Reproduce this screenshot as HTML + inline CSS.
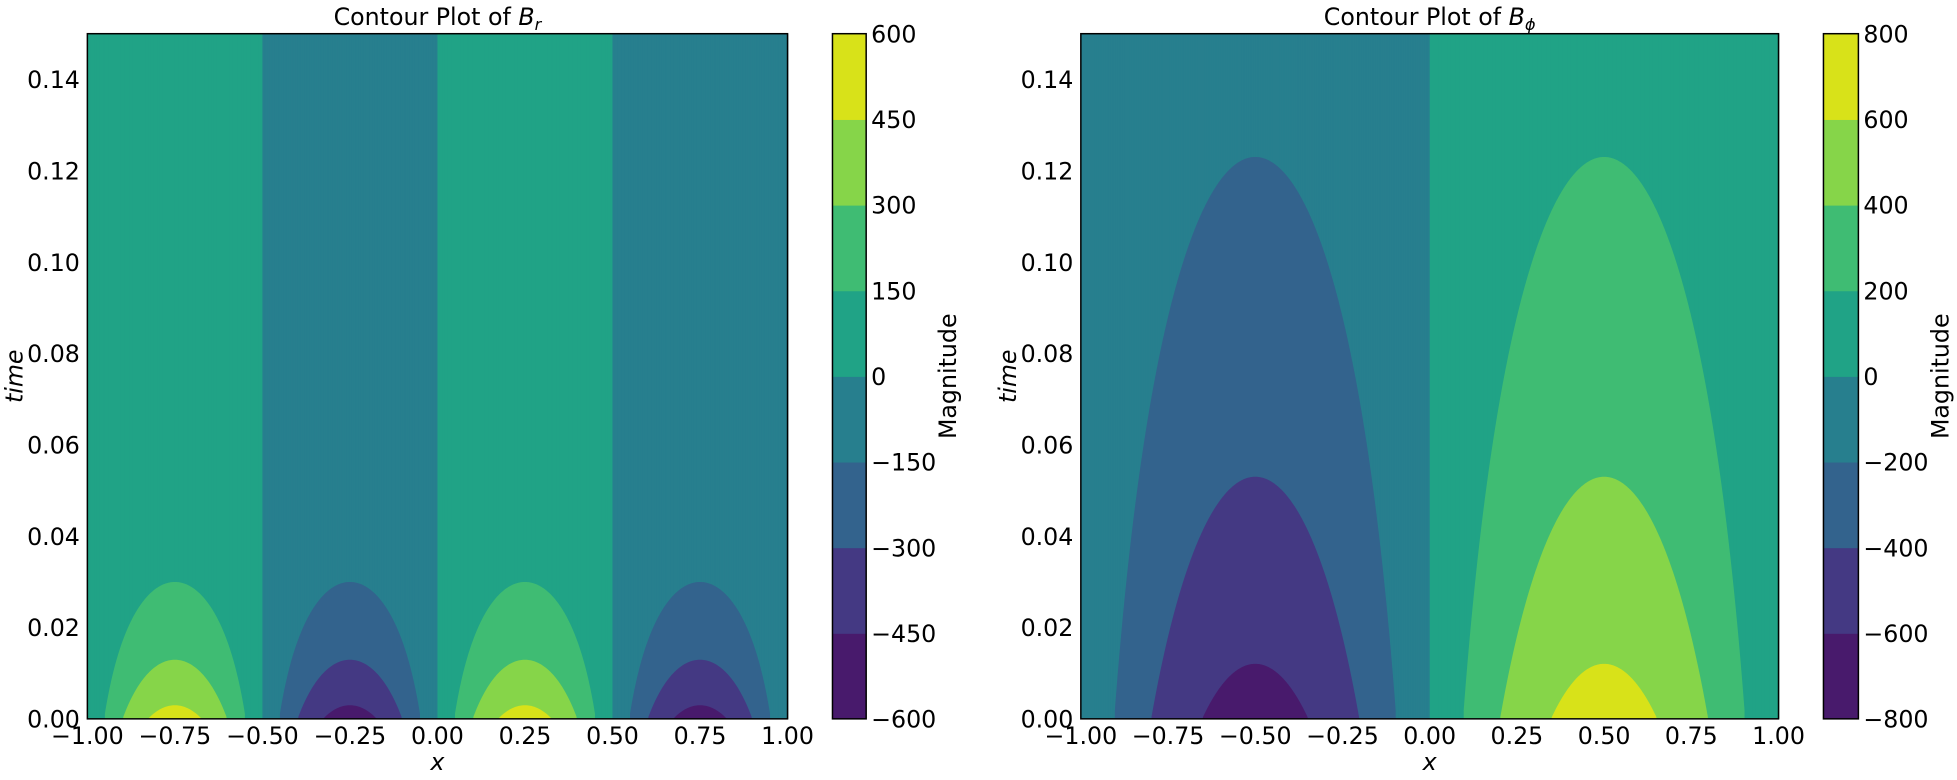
<!DOCTYPE html>
<html><head><meta charset="utf-8"><style>
html,body{margin:0;padding:0;background:#fff;}
svg{display:block;}
text{font-family:"DejaVu Sans","Liberation Sans",sans-serif;fill:#000;}
</style></head><body>
<svg id="s" width="1957" height="780" viewBox="0 0 1568 625" preserveAspectRatio="none" xmlns="http://www.w3.org/2000/svg">
<g id="g"></g>
</svg>
<script>
const C=["#481a6c","#443983","#33638d","#277f8e","#20a386","#3fbc73","#86d549","#d8e219"];
const NS="http://www.w3.org/2000/svg";
const g=document.getElementById('g');
function el(n,a,t){const e=document.createElementNS(NS,n);for(const k in a)e.setAttribute(k,a[k]);if(t!==undefined)e.textContent=t;g.appendChild(e);return e;}
function plot(o){
 const {x0,x1,y0,y1,A,k,w,lev,cb0,cb1,cx,mag,title,cbl}=o;
 const X=x=>x0+(x+1)/2*(x1-x0), T=t=>y1-(t/0.15)*(y1-y0);
 const f=(x,t)=>A*Math.exp(-k*t)*Math.sin(w*Math.PI*x);
 // background bands by sign
 const N=400;
 for(let i=0;i<N;i++){const xa=-1+2*i/N,xb=-1+2*(i+1)/N,xm=(xa+xb)/2;
   const v=f(xm,0.15);const idx=v>=0?4:3;
   el('rect',{x:X(xa),y:y0,width:X(xb)-X(xa)+0.6,height:y1-y0,fill:C[idx]});}
 // domes
 for(let j=1;j<4;j++){
  for(const sgn of [1,-1]){
   const L=lev*j;const col=sgn>0?C[4+j]:C[3-j];
   // find intervals where sgn*A*sin>L
   let pts=[];let inside=false;let d="";
   const M=800;
   for(let i=0;i<=M;i++){const x=-1+2*i/M;const s=sgn*A*Math.sin(w*Math.PI*x);
     if(s>L){const t=Math.min(0.15,Math.log(s/L)/k);pts.push([X(x),T(t)]);inside=true;}
     else if(inside){inside=false;d+=seg(pts);pts=[];}}
   if(pts.length)d+=seg(pts);
   if(d)el('path',{d:d,fill:col});
  }}
 function seg(p){let s="M"+p[0][0]+","+y1;for(const q of p)s+="L"+q[0]+","+q[1];s+="L"+p[p.length-1][0]+","+y1+"Z";return s;}
 el('rect',{x:x0,y:y0,width:x1-x0,height:y1-y0,fill:"none",stroke:"#000","stroke-width":1.2});
 // y ticks
 for(let i=0;i<=7;i++){const t=i*0.02;el('text',{x:x0-6,y:T(t)+7,"text-anchor":"end","font-size":19},t.toFixed(2));}
 ["\u22121.00","\u22120.75","\u22120.50","\u22120.25","0.00","0.25","0.50","0.75","1.00"].forEach((s,i)=>{
   el('text',{x:X(-1+i*0.25),y:y1+20,"text-anchor":"middle","font-size":19},s);});
 el('text',{x:(x0+x1)/2,y:y1+41,"text-anchor":"middle","font-size":19,"font-style":"italic"},"x");
 el('text',{x:0,y:0,"text-anchor":"middle","font-size":19,"font-style":"italic",transform:`translate(${x0-52},${(y0+y1)/2}) rotate(-90)`},"time");
 const tt=el('text',{x:(x0+x1)/2,y:20,"text-anchor":"middle","font-size":19},"Contour Plot of ");
 const ts=document.createElementNS(NS,'tspan');ts.setAttribute('font-style','italic');ts.textContent="B";tt.appendChild(ts);
 const ts2=document.createElementNS(NS,'tspan');ts2.setAttribute('font-style','italic');ts2.setAttribute('font-size',13);ts2.setAttribute('dy',4);ts2.textContent=title;tt.appendChild(ts2);
 // colorbar
 const h=(y1-y0)/8;
 for(let i=0;i<8;i++)el('rect',{x:cb0,y:y1-(i+1)*h,width:cb1-cb0,height:h+0.5,fill:C[i]});
 el('rect',{x:cb0,y:y0,width:cb1-cb0,height:y1-y0,fill:"none",stroke:"#000","stroke-width":1.2});
 cbl.forEach((s,i)=>el('text',{x:cb1+4,y:y1-i*h+7,"font-size":19},s));
 el('text',{x:0,y:0,"text-anchor":"middle","font-size":19,transform:`translate(${mag},${(y0+y1)/2}) rotate(-90)`},"Magnitude");
}
const m="\u2212";
plot({x0:70,x1:631,y0:27,y1:576,A:508,k:40.7,w:2,lev:150,cb0:667,cb1:694,mag:766,title:"r",
 cbl:[m+"600",m+"450",m+"300",m+"150","0","150","300","450","600"]});
plot({x0:866,x1:1425,y0:27,y1:576,A:676,k:9.9,w:1,lev:200,cb0:1461,cb1:1489,mag:1561,title:"\u03d5",
 cbl:[m+"800",m+"600",m+"400",m+"200","0","200","400","600","800"]});
</script>
</body></html>
